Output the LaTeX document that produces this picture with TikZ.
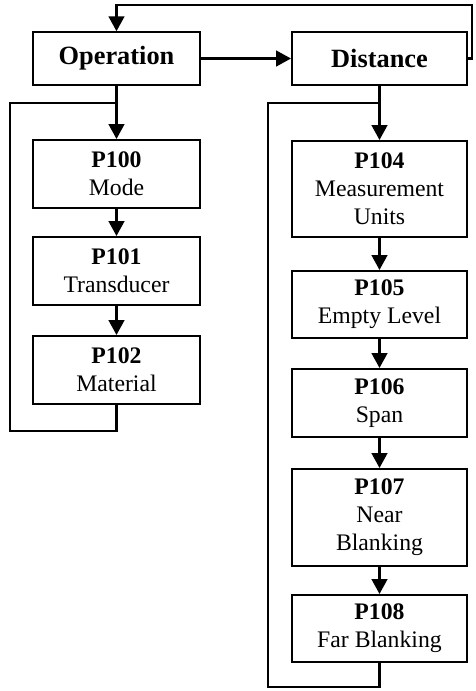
\documentclass[tikz,border=0pt]{standalone}
\usepackage{fontspec}
\setmainfont{Liberation Serif}
\usetikzlibrary{arrows.meta, positioning}

\begin{document}
\begin{tikzpicture}[
    x=0.02cm, y=-0.02cm,
    box/.style={draw, line width=1.2pt, align=center, inner sep=0pt,
        font=\fontsize{13.5}{16}\selectfont},
    lbox/.style={box, minimum width=3.34cm},
    rbox/.style={box, minimum width=3.5cm},
    head/.style={font=\fontsize{15}{18}\selectfont\bfseries, minimum height=1.05cm},
    arrow/.style={-{Triangle[length=8.5pt, width=9pt]}, line width=1.2pt},
    line/.style={line width=1.2pt}
]
    \useasboundingbox (0,0) rectangle (476,691);

    % headers
    \node[lbox, head] (op) at (116.5,58.5) {Operation};
    \node[rbox, head] (dist) at (379.5,58.5) {Distance};

    % operation column
    \node[lbox, minimum height=1.36cm] (p100) at (116.5,174) {\textbf{P100}\\Mode};
    \node[lbox, minimum height=1.36cm] (p101) at (116.5,271) {\textbf{P101}\\Transducer};
    \node[lbox, minimum height=1.36cm] (p102) at (116.5,370) {\textbf{P102}\\Material};

    % distance column
    \node[rbox, minimum height=1.92cm] (p104) at (379.5,189) {\textbf{P104}\\Measurement\\Units};
    \node[rbox, minimum height=1.34cm] (p105) at (379.5,304.5) {\textbf{P105}\\Empty Level};
    \node[rbox, minimum height=1.36cm] (p106) at (379.5,403) {\textbf{P106}\\Span};
    \node[rbox, minimum height=1.94cm] (p107) at (379.5,517.5) {\textbf{P107}\\Near\\Blanking};
    \node[rbox, minimum height=1.34cm] (p108) at (379.5,628.5) {\textbf{P108}\\Far Blanking};

    % loop corners
    \coordinate (top) at (472,5);
    \coordinate (opl) at (10,431);
    \coordinate (opj) at (116.5,103);
    \coordinate (dsl) at (268,687);
    \coordinate (dsj) at (379.5,103);

    \draw[arrow] (op) -- (dist);
    \draw[arrow] (dist.east) -| (top) -| (op.north);

    \draw[arrow] (op) -- (p100);
    \draw[arrow] (p100) -- (p101);
    \draw[arrow] (p101) -- (p102);
    \draw[line] (p102.south) |- (opl) |- (opj);

    \draw[arrow] (dist) -- (p104);
    \draw[arrow] (p104) -- (p105);
    \draw[arrow] (p105) -- (p106);
    \draw[arrow] (p106) -- (p107);
    \draw[arrow] (p107) -- (p108);
    \draw[line] (p108.south) |- (dsl) |- (dsj);
\end{tikzpicture}
\end{document}
